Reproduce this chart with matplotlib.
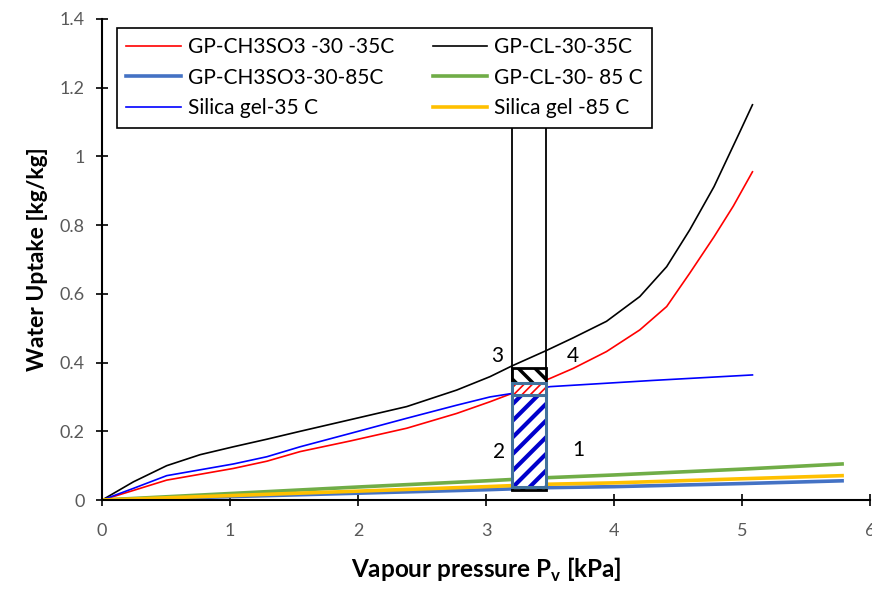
import matplotlib
matplotlib.use("Agg")
import matplotlib.pyplot as plt
from matplotlib.patches import Rectangle

plt.rcParams['font.family'] = ['Lato', 'DejaVu Sans']

# GP-CL-30 at 35 C
x_cl35 = [0, 0.245, 0.505, 0.766, 1.026, 1.287, 1.547, 1.86, 2.38, 2.77, 3.03, 3.2,
          3.47, 3.68, 3.94, 4.2, 4.41, 4.59, 4.78, 4.98, 5.08]
y_cl35 = [0, 0.053, 0.10, 0.132, 0.155, 0.177, 0.200, 0.227, 0.272, 0.32, 0.359, 0.39,
          0.435, 0.472, 0.52, 0.592, 0.679, 0.786, 0.912, 1.07, 1.15]
# GP-CH3SO3-30 at 35 C
x_ch35 = [0, 0.245, 0.505, 0.766, 1.026, 1.287, 1.547, 1.94, 2.38, 2.77, 3.03, 3.2,
          3.5, 3.68, 3.94, 4.2, 4.41, 4.59, 4.78, 4.93, 5.08]
y_ch35 = [0, 0.028, 0.058, 0.075, 0.092, 0.113, 0.141, 0.172, 0.209, 0.252, 0.286, 0.31,
          0.354, 0.383, 0.432, 0.495, 0.563, 0.66, 0.766, 0.855, 0.955]
# silica gel at 35 C
x_sg35 = [0, 0.245, 0.505, 0.766, 1.026, 1.287, 1.547, 1.94, 2.38, 2.77, 3.03, 3.2, 3.5, 4.3, 5.08]
y_sg35 = [0, 0.034, 0.071, 0.088, 0.105, 0.126, 0.155, 0.194, 0.238, 0.276, 0.30, 0.31, 0.33, 0.348, 0.364]
# 85 C curves
x_85 = [0, 1, 2, 3, 3.47, 4, 5, 5.78]
y_cl85 = [0, 0.019, 0.038, 0.056, 0.065, 0.073, 0.09, 0.105]
y_sg85 = [0, 0.013, 0.026, 0.039, 0.046, 0.05, 0.062, 0.071]
y_ch85 = [0, 0.010, 0.020, 0.030, 0.036, 0.039, 0.048, 0.056]

p_low, p_high = 3.2, 3.47
labels_txt = ['1', '2', '3', '4']
labels_x = [3.72, 3.10, 3.09, 3.68]
labels_y = [0.145, 0.14, 0.42, 0.42]

fig = plt.figure(figsize=(8.72, 5.89), dpi=100)
ax = fig.add_axes([0.117, 0.151, 0.881, 0.817])

l_ch35, = ax.plot(x_ch35, y_ch35, color='#ff0000', lw=1.2, label='GP-CH3SO3 -30 -35C')
l_cl35, = ax.plot(x_cl35, y_cl35, color='black', lw=1.2, label='GP-CL-30-35C')
l_sg35, = ax.plot(x_sg35, y_sg35, color='#0000ff', lw=1.2, label='Silica gel-35 C')
l_ch85, = ax.plot(x_85, y_ch85, color='#4472C4', lw=2.6, label='GP-CH3SO3-30-85C')
l_cl85, = ax.plot(x_85, y_cl85, color='#70AD47', lw=2.6, label='GP-CL-30- 85 C')
l_sg85, = ax.plot(x_85, y_sg85, color='#FFC000', lw=2.6, label='Silica gel -85 C')

# vertical lines of the cycle
ax.plot([p_low, p_low], [0.03, 1.09], color='black', lw=1.3, zorder=3)
ax.plot([p_high, p_high], [0.03, 1.09], color='black', lw=1.3, zorder=3)

w = p_high - p_low
def hatched(x, y0, y1, hatch, hcol, hlw, edge, elw, z):
    r = Rectangle((x, y0), w, y1 - y0, facecolor='white', edgecolor=hcol,
                  hatch=hatch, linewidth=0, zorder=z)
    try:
        r.set_hatch_linewidth(hlw)
    except AttributeError:
        plt.rcParams['hatch.linewidth'] = hlw
    ax.add_patch(r)
    ax.add_patch(Rectangle((x, y0), w, y1 - y0, facecolor='none',
                           edgecolor=edge, linewidth=elw, zorder=z + 0.5))

hatched(p_low, 0.03, 0.385, '\\\\', 'black', 2.5, 'black', 2.0, 4)
hatched(p_low, 0.038, 0.305, '//', '#0000cc', 3.0, '#41719C', 2.2, 5)
hatched(p_low, 0.305, 0.34, '////', '#ff0000', 1.2, '#41719C', 2.2, 6)

for t, tx, ty in zip(labels_txt, labels_x, labels_y):
    ax.text(tx, ty, t, fontsize=15, ha='center', va='center', color='black')

ax.set_xlim(0, 6)
ax.set_ylim(0, 1.4)
ax.set_xticks(range(0, 7))
ax.set_yticks([0, 0.2, 0.4, 0.6, 0.8, 1.0, 1.2, 1.4])
ax.set_yticklabels(['0', '0.2', '0.4', '0.6', '0.8', '1', '1.2', '1.4'])
ax.spines['top'].set_visible(False)
ax.spines['right'].set_visible(False)
ax.spines['left'].set_linewidth(1.5)
ax.spines['bottom'].set_linewidth(1.5)
ax.tick_params(axis='both', direction='inout', length=9, width=1.2,
               labelsize=13, labelcolor='#595959')
ax.tick_params(axis='x', pad=12)
ax.tick_params(axis='y', pad=8)
ax.set_xlabel('Vapour pressure P$_\\mathregular{v}$ [kPa]', fontsize=17.5, fontweight='bold', labelpad=12)
ax.set_ylabel('Water Uptake [kg/kg]', fontsize=16.5, fontweight='bold', labelpad=8)

handles = [l_ch35, l_ch85, l_sg35, l_cl35, l_cl85, l_sg85]
leg = ax.legend(handles=handles, ncol=2, loc='upper left',
                bbox_to_anchor=(0.0195, 0.773, 0.697, 0.208), mode='expand',
                borderaxespad=0, fontsize=15, frameon=True, fancybox=False,
                edgecolor='black', framealpha=1, handlelength=2.6, handletextpad=0.35,
                borderpad=0.45, labelspacing=0.5, columnspacing=1.0)
leg.get_frame().set_linewidth(1.2)
leg.set_zorder(10)

fig.savefig('out.png', dpi=100)
